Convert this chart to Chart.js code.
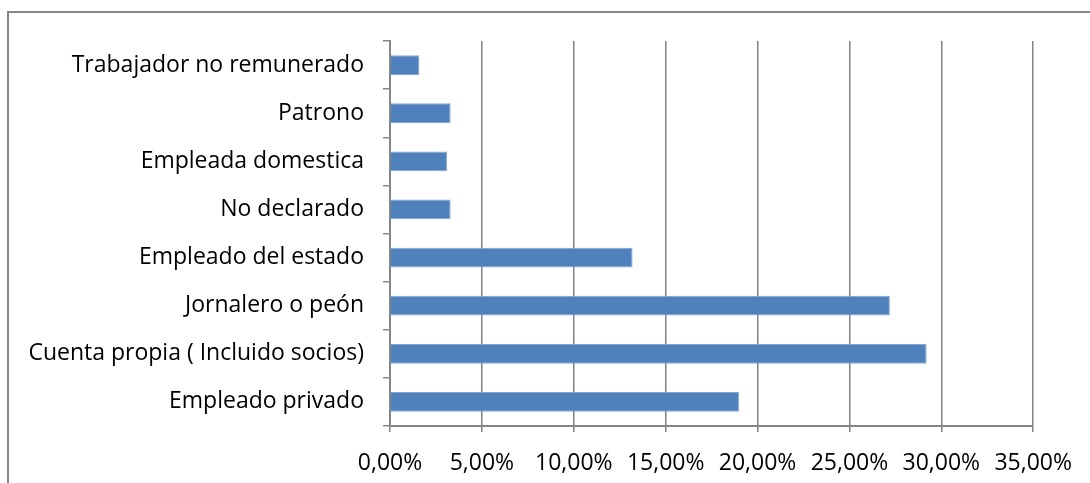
<!DOCTYPE html>
<html>
<head>
<meta charset="utf-8">
<script src="https://cdn.jsdelivr.net/npm/chart.js@4"></script>
<style>
  html, body { margin: 0; padding: 0; background: #fff; overflow: hidden; }
  #wrap { position: relative; width: 1090px; height: 483px; }
  #frame { position: absolute; left: 7px; top: 11px; width: 1100px; height: 500px; border: 2px solid #878787; }
  canvas { position: absolute; left: 0; top: 0; }
</style>
</head>
<body>
<div id="wrap">
  <div id="frame"></div>
  <canvas id="chart" width="1090" height="483"></canvas>
</div>
<script>
// categories, top to bottom
let categories = [
    "Trabajador no remunerado",
    "Patrono",
    "Empleada domestica",
    "No declarado",
    "Empleado del estado",
    "Jornalero o peón",
    "Cuenta propia ( Incluido socios)",
    "Empleado privado"
];
// percent values
let values = [1.6, 3.3, 3.1, 3.3, 13.2, 27.2, 29.2, 19.0];
let xMin = 0, xMax = 35, xStep = 5;

let font = { family: "'Open Sans', 'Noto Sans', sans-serif", size: 23 };

let config = {
    type: 'bar',
    data: {
        labels: categories,
        datasets: [{
            data: values,
            backgroundColor: '#4F81BD',
            borderColor: '#86A7D2',
            borderWidth: 1,
            barPercentage: 0.41,
            categoryPercentage: 1
        }]
    },
    options: {
        indexAxis: 'y',
        responsive: false,
        animation: false,
        layout: { padding: { left: 0, right: 56, top: 41, bottom: 0 } },
        plugins: { legend: { display: false }, tooltip: { enabled: false } },
        scales: {
            x: {
                min: xMin,
                max: xMax,
                ticks: {
                    stepSize: xStep,
                    color: '#000',
                    font: font,
                    padding: 18,
                    callback: v => v.toFixed(2).replace('.', ',') + '%'
                },
                grid: { color: '#828282', lineWidth: 1.5, tickLength: 6 },
                border: { color: '#868686', width: 2 },
                afterFit: s => { s.height = 57; }
            },
            y: {
                ticks: { color: '#000', font: font, padding: 19 },
                grid: { offset: true, drawOnChartArea: false, color: '#868686', lineWidth: 1.5, tickLength: 7 },
                border: { color: '#868686', width: 2 },
                afterFit: s => { s.width = 390; }
            }
        }
    }
};

let chart = new Chart(document.getElementById("chart"), config);
</script>
</body>
</html>
